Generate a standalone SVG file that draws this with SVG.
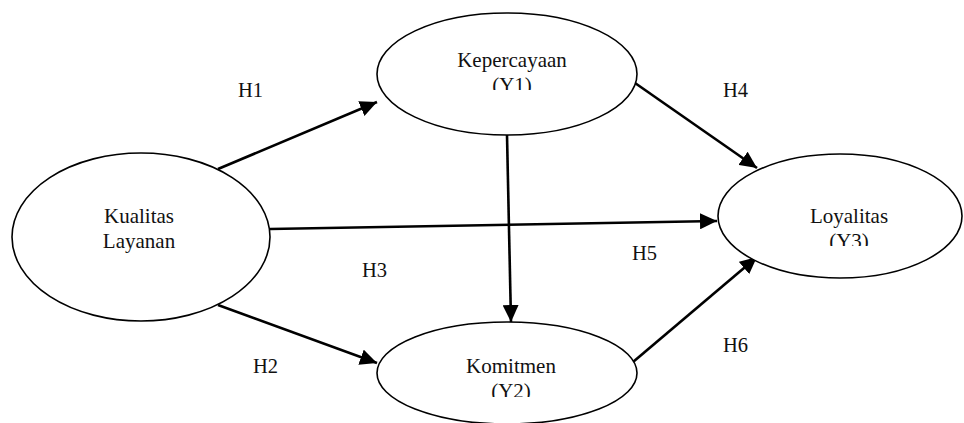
<svg xmlns="http://www.w3.org/2000/svg" width="964" height="423" viewBox="0 0 964 423">
<style>
.n{fill:#fff;stroke:#000;stroke-width:1.6}
.t{font-family:"Liberation Serif","Times New Roman",serif;font-size:21px;fill:#111;text-anchor:middle}
.h{font-family:"Liberation Serif","Times New Roman",serif;font-size:20.5px;fill:#111}
.c{stroke:#000;stroke-width:2.6;fill:none}
</style>
<defs>
<marker id="ah" markerUnits="userSpaceOnUse" markerWidth="18" markerHeight="16" viewBox="0 0 18 16" refX="17" refY="8" orient="auto">
<path d="M0,0 L17,8 L0,16 Z" fill="#000"/>
</marker>
<clipPath id="c1"><rect x="380" y="0" width="260" height="90"/></clipPath>
<clipPath id="c2"><rect x="380" y="300" width="260" height="97"/></clipPath>
<clipPath id="c3"><rect x="720" y="150" width="244" height="96"/></clipPath>
</defs>
<g id="connectors">
<line class="c" x1="218" y1="169" x2="377" y2="102" marker-end="url(#ah)"/>
<line class="c" x1="218" y1="305" x2="377" y2="363" marker-end="url(#ah)"/>
<line class="c" x1="270" y1="229" x2="717" y2="221" marker-end="url(#ah)"/>
<line class="c" x1="635" y1="83" x2="757" y2="168" marker-end="url(#ah)"/>
<line class="c" x1="507" y1="135" x2="511" y2="322" marker-end="url(#ah)"/>
<line class="c" x1="633" y1="362" x2="757" y2="257" marker-end="url(#ah)"/>
</g>
<g id="kualitas">
<ellipse class="n" cx="141" cy="237" rx="129" ry="84"/>
<text class="t" x="139" y="223">Kualitas</text>
<text class="t" x="139" y="248">Layanan</text>
</g>
<g id="kepercayaan">
<ellipse class="n" cx="507" cy="74" rx="130" ry="61"/>
<text class="t" x="512" y="67">Kepercayaan</text>
<text class="t" x="512" y="92" clip-path="url(#c1)">(Y1)</text>
</g>
<g id="komitmen">
<ellipse class="n" cx="507" cy="373" rx="130" ry="51"/>
<text class="t" x="511" y="373">Komitmen</text>
<text class="t" x="511" y="398" clip-path="url(#c2)">(Y2)</text>
</g>
<g id="loyalitas">
<ellipse class="n" cx="840" cy="216" rx="122" ry="62"/>
<text class="t" x="849" y="223">Loyalitas</text>
<text class="t" x="849" y="248" clip-path="url(#c3)">(Y3)</text>
</g>
<g id="labels">
<text class="h" x="238" y="97">H1</text>
<text class="h" x="253" y="373">H2</text>
<text class="h" x="362" y="277">H3</text>
<text class="h" x="723" y="97">H4</text>
<text class="h" x="632" y="260">H5</text>
<text class="h" x="723" y="352">H6</text>
</g>
</svg>
